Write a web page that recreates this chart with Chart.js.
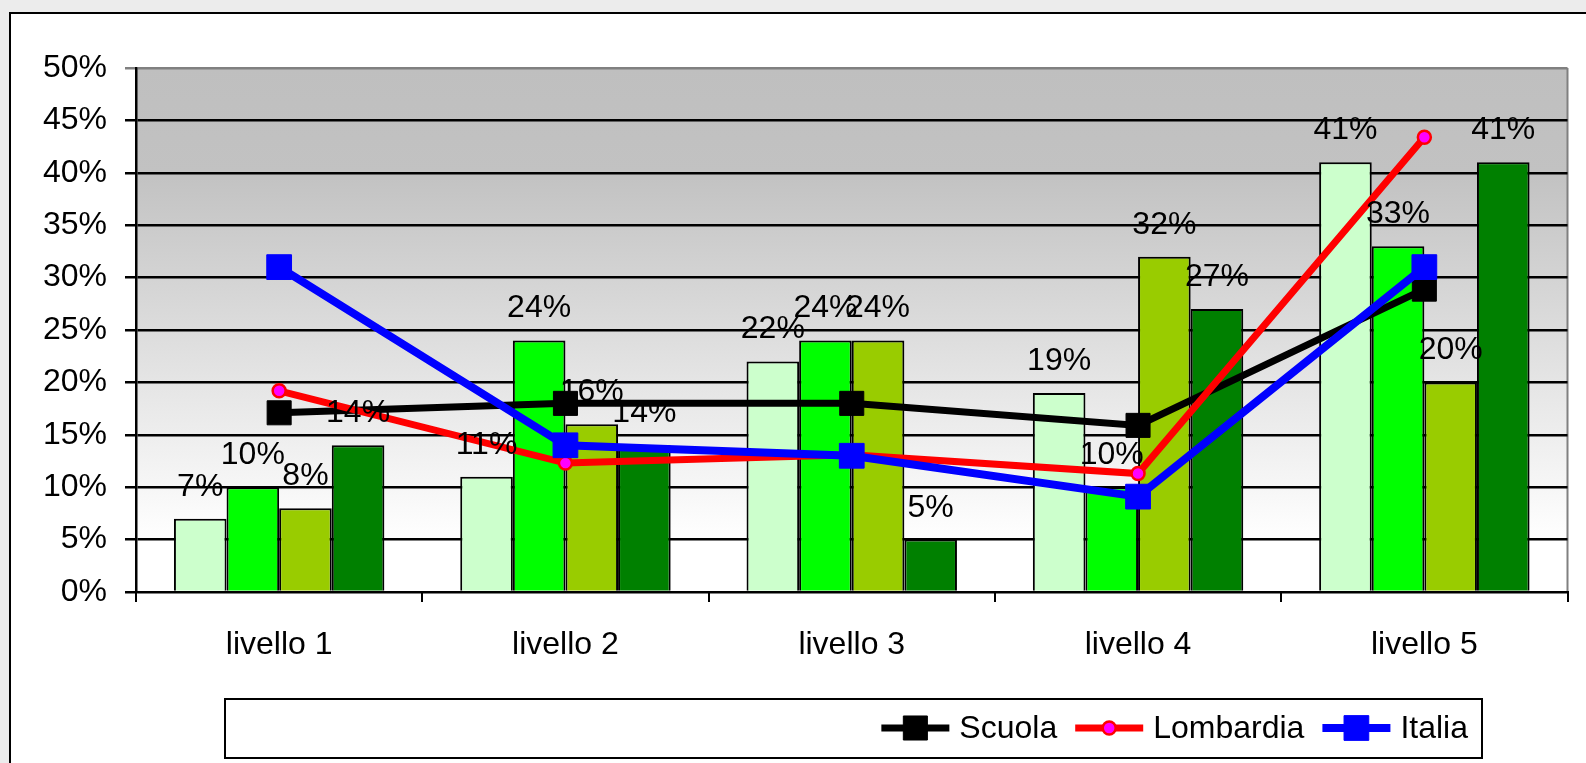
<!DOCTYPE html>
<html>
<head>
<meta charset="utf-8">
<script src="https://cdn.jsdelivr.net/npm/chart.js@4.4.0/dist/chart.umd.min.js"></script>
<style>
  html, body { margin: 0; padding: 0; background: #f0f0f0; }
  canvas { display: block; }
</style>
</head>
<body>
<canvas id="chart" width="1586" height="763"></canvas>
<script>
const categories = ['livello 1', 'livello 2', 'livello 3', 'livello 4', 'livello 5'];

// bar series (values in %)
const serie1 = [7, 11, 22, 19, 41];
const serie2 = [10, 24, 24, 10, 33];
const serie3 = [8, 16, 24, 32, 20];
const serie4 = [14, 14, 5, 27, 41];

// line series (values in %)
const scuola = [17.1, 18, 18, 15.9, 28.9];
const lombardia = [19.2, 12.3, 13.1, 11.3, 43.4];
const italia = [31, 14, 13, 9.1, 31];

const FONT = "'Liberation Sans', Arial, sans-serif";
const FS = 32;

Chart.defaults.font.family = FONT;
Chart.defaults.color = '#000';

/* background: page frame + gradient plot area */
const backgroundPlugin = {
  id: 'background',
  beforeDraw(chart) {
    const ctx = chart.ctx;
    const a = chart.chartArea;
    ctx.save();
    ctx.fillStyle = '#ececec';
    ctx.fillRect(0, 0, chart.width, chart.height);
    ctx.fillStyle = '#fff';
    ctx.fillRect(10, 13, chart.width, chart.height);
    ctx.strokeStyle = '#000';
    ctx.lineWidth = 2;
    ctx.strokeRect(10, 13, chart.width + 10, chart.height + 10);

    const g = ctx.createLinearGradient(0, a.top, 0, a.bottom);
    g.addColorStop(0, '#bfbfbf');
    g.addColorStop(0.2, '#c2c2c2');
    g.addColorStop(0.9, '#ffffff');
    g.addColorStop(1, '#ffffff');
    ctx.fillStyle = g;
    ctx.fillRect(a.left, a.top, a.right - a.left, a.bottom - a.top);
    ctx.strokeStyle = '#808080';
    ctx.beginPath();
    ctx.moveTo(a.right, a.top);
    ctx.lineTo(a.right, a.bottom);
    ctx.stroke();
    ctx.restore();
  }
};

/* value labels above the bars */
const barLabelPlugin = {
  id: 'barLabels',
  afterDraw(chart) {
    const ctx = chart.ctx;
    ctx.save();
    ctx.font = FS + 'px ' + FONT;
    ctx.fillStyle = '#000';
    ctx.textAlign = 'center';
    ctx.textBaseline = 'alphabetic';
    chart.data.datasets.forEach((ds, i) => {
      if (ds.type !== 'bar') return;
      chart.getDatasetMeta(i).data.forEach((bar, j) => {
        ctx.fillText(ds.data[j] + '%', bar.x, bar.y - 23);
      });
    });
    ctx.restore();
  }
};

/* boxed legend with line + marker, like the original */
const boxLegendPlugin = {
  id: 'boxLegend',
  afterDraw(chart) {
    const ctx = chart.ctx;
    ctx.save();
    ctx.fillStyle = '#fff';
    ctx.fillRect(225, 699, 1257, 59);
    ctx.strokeStyle = '#000';
    ctx.lineWidth = 2;
    ctx.strokeRect(225, 699, 1257, 59);

    ctx.font = FS + 'px ' + FONT;
    const items = chart.data.datasets.filter(d => d.type === 'line')
      .sort((p, q) => p.legendIndex - q.legendIndex);
    const lineLen = 68, gapText = 10, gapItem = 18;
    let total = 0;
    items.forEach((d, k) => {
      total += lineLen + gapText + ctx.measureText(d.label).width;
      if (k > 0) total += gapItem;
    });
    let x = 1468 - total;
    const y = 728;
    items.forEach(d => {
      ctx.strokeStyle = d.borderColor;
      ctx.lineWidth = d.borderWidth;
      ctx.beginPath();
      ctx.moveTo(x, y);
      ctx.lineTo(x + lineLen, y);
      ctx.stroke();
      ctx.fillStyle = d.pointBackgroundColor;
      ctx.strokeStyle = d.pointBorderColor;
      ctx.lineWidth = d.pointBorderWidth;
      Chart.helpers.drawPoint(ctx, { pointStyle: d.pointStyle, radius: d.pointRadius, rotation: 0, borderWidth: d.pointBorderWidth }, x + lineLen / 2, y);
      ctx.fillStyle = '#000';
      ctx.textAlign = 'left';
      ctx.textBaseline = 'middle';
      ctx.fillText(d.label, x + lineLen + gapText, y + 1);
      x += lineLen + gapText + ctx.measureText(d.label).width + gapItem;
    });
    ctx.restore();
  }
};

function barSet(label, data, color) {
  return {
    type: 'bar', label: label, data: data, order: 3,
    backgroundColor: color, borderColor: '#000', borderWidth: 2,
    categoryPercentage: 0.735, barPercentage: 1
  };
}

new Chart(document.getElementById('chart'), {
  data: {
    labels: categories,
    datasets: [
      barSet('serie 1', serie1, '#ccffcc'),
      barSet('serie 2', serie2, '#00ff00'),
      barSet('serie 3', serie3, '#99cc00'),
      barSet('serie 4', serie4, '#008000'),
      {
        type: 'line', label: 'Scuola', data: scuola, order: 2, legendIndex: 0,
        borderColor: '#000', borderWidth: 7,
        pointStyle: 'rect', pointRadius: 17, pointBorderWidth: 1,
        pointBackgroundColor: '#000', pointBorderColor: '#000'
      },
      {
        type: 'line', label: 'Lombardia', data: lombardia, order: 1, legendIndex: 1,
        borderColor: '#ff0000', borderWidth: 7,
        pointStyle: 'circle', pointRadius: 6.5, pointBorderWidth: 2.5,
        pointBackgroundColor: '#ff00ff', pointBorderColor: '#ff0000'
      },
      {
        type: 'line', label: 'Italia', data: italia, order: 0, legendIndex: 2,
        borderColor: '#0000ff', borderWidth: 8,
        pointStyle: 'rect', pointRadius: 17.5, pointBorderWidth: 1,
        pointBackgroundColor: '#0000ff', pointBorderColor: '#0000ff'
      }
    ]
  },
  options: {
    responsive: false,
    animation: false,
    devicePixelRatio: 1,
    layout: { padding: { left: 0, top: 68, right: 8, bottom: 0 } },
    plugins: {
      legend: { display: false },
      tooltip: { enabled: false }
    },
    scales: {
      x: {
        grid: { offset: true, drawOnChartArea: false, tickLength: 10, color: '#000', lineWidth: 2 },
        border: { color: '#000', width: 2 },
        ticks: { color: '#000', font: { size: FS }, padding: 24, maxRotation: 0 },
        afterFit(s) { s.height = 171; }
      },
      y: {
        min: 0, max: 50,
        grid: {
          color: c => (c.tick && c.tick.value === 50) ? '#808080' : '#000',
          lineWidth: 2.5, tickLength: 11
        },
        border: { color: '#000', width: 2.5 },
        ticks: { stepSize: 5, color: '#000', font: { size: FS }, padding: 18, callback: v => v + '%' },
        afterFit(s) { s.width = 136; }
      }
    }
  },
  plugins: [backgroundPlugin, barLabelPlugin, boxLegendPlugin]
});
</script>
</body>
</html>
